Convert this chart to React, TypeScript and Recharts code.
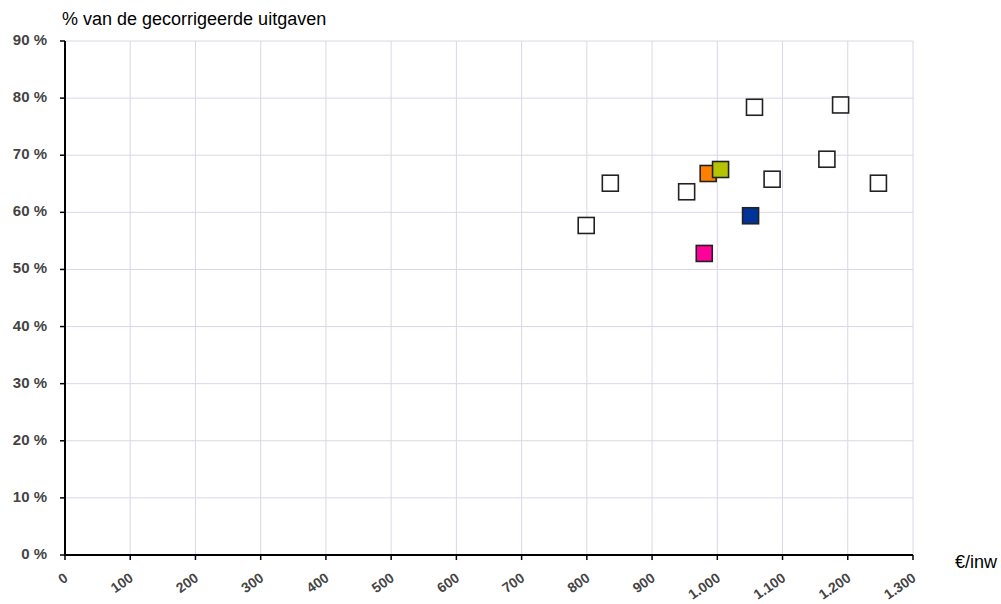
import React from 'react';
import { ScatterChart, Scatter, XAxis, YAxis, CartesianGrid } from 'recharts';

// Comparison municipalities (white squares)
const otherSpend = [799, 836, 953, 1057, 1084, 1168, 1189, 1247];
const otherShare = [57.7, 65.1, 63.6, 78.4, 65.8, 69.3, 78.8, 65.1];

// Highlighted points
const highlightNames = ['orange', 'green', 'blue', 'pink'];
const highlightSpend = [986, 1005, 1051, 980];
const highlightShare = [66.8, 67.5, 59.4, 52.8];
const highlightColors = ['#FF7F00', '#B4C400', '#003399', '#FF0099'];

const xTicks = [0, 100, 200, 300, 400, 500, 600, 700, 800, 900, 1000, 1100, 1200, 1300];
const yTicks = [0, 10, 20, 30, 40, 50, 60, 70, 80, 90];

const yTitle = '% van de gecorrigeerde uitgaven';
const xTitle = '€/inw';

const otherData = otherSpend.map((x, i) => ({ x, y: otherShare[i] }));
const highlightData = highlightNames.map((name, i) => ({
  name,
  x: highlightSpend[i],
  y: highlightShare[i],
  color: highlightColors[i],
}));

const fmtX = (v: number) => v.toLocaleString('de-DE');

const FONT = "'Liberation Sans', Arial, sans-serif";

const SquareShape = (props: any) => {
  const { cx, cy, payload, fill } = props;
  const c = payload && payload.color ? payload.color : fill;
  return (
    <rect x={cx - 8} y={cy - 8} width={16} height={16} fill={c} stroke="#222" strokeWidth={1.6} />
  );
};

const XTick = (props: any) => {
  const { x, y, payload } = props;
  return (
    <g transform={`translate(${x + 4},${y + 18})`}>
      <text
        x={0}
        y={0}
        textAnchor="end"
        transform="rotate(-35)"
        fontSize={14}
        fontWeight="bold"
        fontFamily={FONT}
        fill="#444"
      >
        {fmtX(payload.value)}
      </text>
    </g>
  );
};

const YTick = (props: any) => {
  const { x, y, payload } = props;
  return (
    <text
      x={x - 11}
      y={y + 4}
      textAnchor="end"
      fontSize={15}
      fontWeight="bold"
      fontFamily={FONT}
      fill="#444"
    >
      {`${payload.value} %`}
    </text>
  );
};

export default function App() {
  return (
    <div style={{ position: 'absolute', left: 0, top: 0, width: 1001, height: 604, background: '#fff' }}>
      <ScatterChart
        width={1001}
        height={604}
        margin={{ top: 41, right: 88, bottom: 0, left: 0 }}
      >
        <CartesianGrid stroke="#D8D8E6" strokeWidth={1} />
        <XAxis
          type="number"
          dataKey="x"
          domain={[0, 1300]}
          ticks={xTicks}
          interval={0}
          height={49}
          axisLine={{ stroke: '#000', strokeWidth: 2 }}
          tickLine={{ stroke: '#000', strokeWidth: 1.5 }}
          tickSize={5}
          tick={<XTick />}
          allowDataOverflow
        />
        <YAxis
          type="number"
          dataKey="y"
          domain={[0, 90]}
          ticks={yTicks}
          interval={0}
          width={65}
          axisLine={{ stroke: '#000', strokeWidth: 2 }}
          tickLine={{ stroke: '#000', strokeWidth: 1.5 }}
          tickSize={5}
          tick={<YTick />}
          allowDataOverflow
        />
        <Scatter data={otherData} fill="#FFFFFF" shape={SquareShape} isAnimationActive={false} />
        <Scatter data={highlightData} fill="#FFFFFF" shape={SquareShape} isAnimationActive={false} />
        <text x={62} y={25} fontSize={18} fontFamily={FONT} fill="#000">
          {yTitle}
        </text>
        <text x={955} y={568} fontSize={18} fontFamily={FONT} fill="#000">
          {xTitle}
        </text>
      </ScatterChart>
    </div>
  );
}
